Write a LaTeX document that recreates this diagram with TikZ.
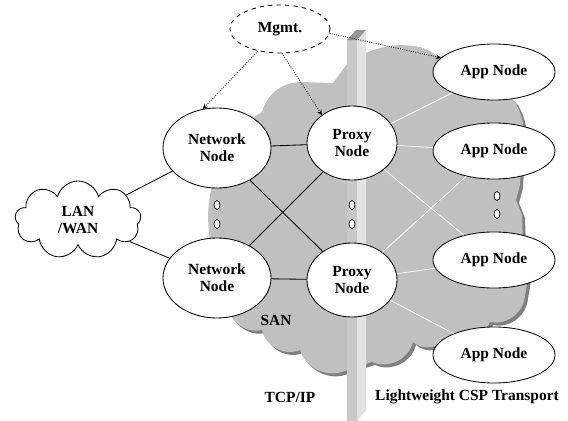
\documentclass[tikz,border=0pt]{standalone}
\usepackage{fontspec}
\setmainfont{Liberation Serif}
\usetikzlibrary{shapes.geometric,shapes.symbols}

\definecolor{sangray}{HTML}{C0C0C0}
\definecolor{sanshade}{HTML}{808080}
\definecolor{wallfront}{HTML}{C8C8C8}
\definecolor{wallside}{HTML}{E2E2E2}
\definecolor{walltop}{HTML}{969696}

% outline of the SAN cloud (pixel units)
\newcommand{\sanoutline}{%
  (210,-240) to[bend left=10] (212,-185) to[bend left=25] (262,-112)
  to[bend left=35] (300,-82) -- (333,-83) -- (350,-60) -- (368,-52)
  to[bend left=15] (420,-47) to[bend left=20] (450,-72)
  to[bend left=20] (515,-102) to[bend left=20] (522,-145) -- (520,-185)
  -- (516,-200) -- (522,-215) -- (523,-245) to[bend left=15] (525,-295)
  to[bend left=50] (490,-322) to[bend left=50] (447,-337)
  to[bend left=50] (413,-342) to[bend left=50] (372,-362) -- (347,-370)
  to[bend left=50] (300,-350) to[bend left=50] (262,-330)
  to[bend left=50] (228,-305) -- cycle}

\begin{document}
\begin{tikzpicture}[x=0.025cm, y=0.025cm,
      every node/.style={font=\fontsize{11}{12}\selectfont\bfseries},
      nd/.style={ellipse, draw, line width=0.6pt, fill=white,
                 inner sep=0pt, align=center},
      netnode/.style={nd, minimum width=2.7cm, minimum height=2cm},
      prxnode/.style={nd, minimum width=2.25cm, minimum height=1.85cm},
      appnode/.style={nd, minimum width=3.05cm, minimum height=1.4cm},
      mgmtnode/.style={nd, dashed, minimum width=2.5cm, minimum height=1.2cm},
      dotnode/.style={ellipse, draw, line width=0.5pt, fill=white,
                      inner sep=0pt, minimum width=0.15cm, minimum height=0.22cm},
      lnk/.style={line width=0.6pt},
      wlnk/.style={line width=0.5pt, white},
      arr/.style={->, >=stealth, densely dotted, line width=0.6pt},
    ]
    \useasboundingbox (0,0) rectangle (568,-421);

    % SAN cloud with its shadow
    \fill[sanshade, shift={(3,-3)}] \sanoutline;
    \fill[sangray] \sanoutline;

    % Wall between TCP/IP and CSP
    \fill[wallfront] (347,-40) -- (357,-40) -- (357,-421) -- (347,-421) -- cycle;
    \fill[wallside] (357,-40) -- (366,-30) -- (366,-410) -- (357,-421) -- cycle;
    \fill[walltop] (347,-40) -- (356,-30) -- (366,-30) -- (357,-40) -- cycle;

    % Management
    \node[mgmtnode] (mgmt) at (280,-29) {Mgmt.};

    % Network and proxy nodes
    \node[netnode] (net1) at (217,-148) {Network\\Node};
    \node[netnode] (net2) at (217,-278) {Network\\Node};
    \node[prxnode] (prx1) at (352,-143) {Proxy\\Node};
    \node[prxnode] (prx2) at (352,-280) {Proxy\\Node};

    % App nodes
    \node[appnode] (app1) at (494,-72)  {App Node};
    \node[appnode] (app2) at (494,-151) {App Node};
    \node[appnode] (app3) at (494,-260) {App Node};
    \node[appnode] (app4) at (494,-355) {App Node};

    % LAN/WAN cloud
    \node[cloud, draw, line width=0.6pt, fill=white, cloud puffs=9,
          align=center, minimum width=3.15cm, minimum height=1.95cm,
          inner sep=0pt] (lan) at (78,-220) {LAN\\/WAN};

    % Labels
    \node (san) at (276,-320) {SAN};
    \node (tcp) at (290,-397) {TCP/IP};
    \node (csp) at (467,-397) {Lightweight CSP Transport};

    % Ellipsis marks
    \node[dotnode] (d1) at (217,-205) {};
    \node[dotnode] (d2) at (217,-224) {};
    \node[dotnode] (d3) at (352,-205) {};
    \node[dotnode] (d4) at (352,-224) {};
    \node[dotnode] (d5) at (497,-196) {};
    \node[dotnode] (d6) at (497,-214) {};

    % Links: LAN side
    \draw[lnk] (lan) -- (net1);
    \draw[lnk] (lan) -- (net2);
    \draw[lnk] (net1) -- (prx1);
    \draw[lnk] (net2) -- (prx2);
    \draw[lnk] (net1) -- (prx2);
    \draw[lnk] (net2) -- (prx1);

    % Links: CSP side
    \draw[wlnk] (prx1) -- (app1);
    \draw[wlnk] (prx1) -- (app2);
    \draw[wlnk] (prx1) -- (app3);
    \draw[wlnk] (prx2) -- (app2);
    \draw[wlnk] (prx2) -- (app3);
    \draw[wlnk] (prx2) -- (app4);

    % Management arrows
    \draw[arr] (mgmt.225) -- (net1.110);
    \draw[arr] (mgmt.275) -- (prx1.137);
    \draw[arr] (mgmt.355) -- (app1.165);

\end{tikzpicture}
\end{document}
